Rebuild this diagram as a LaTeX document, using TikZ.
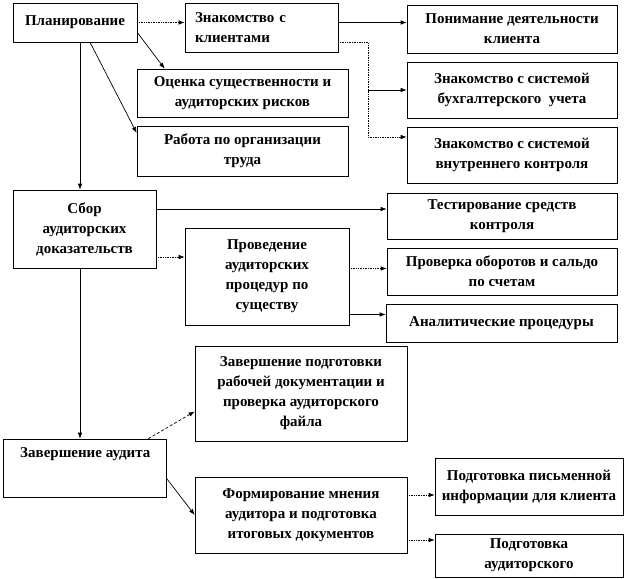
\documentclass[tikz,border=0pt]{standalone}
\usepackage{fontspec}
\setmainfont{Liberation Serif}
\usetikzlibrary{arrows.meta, shadows}

\begin{document}
\begin{tikzpicture}[x=1pt, y=-1pt,
    font=\bfseries\fontsize{15}{20}\selectfont,
    box/.style={draw, line width=0.6pt, fill=white, align=center, inner sep=2pt,
        drop shadow={shadow xshift=1.2pt, shadow yshift=-1.2pt, fill=black!70, opacity=1}},
    arr/.style={-{Latex[length=6pt,width=4.5pt]}, line width=0.7pt},
    dotarr/.style={arr, densely dotted}]
    \useasboundingbox (0,0) rectangle (630,579);
    % Planning
    \node[box, minimum width=124pt, minimum height=39pt] (plan) at (75,22.5) {Планирование};
    \node[box, minimum width=153pt, minimum height=49pt, text width=133pt, align=left] (klient) at (261.5,27.5) {Знакомство с\\клиентами};
    \node[box, minimum width=211pt, minimum height=48pt] (ocenka) at (242.5,93) {Оценка существенности и\\аудиторских рисков};
    \node[box, minimum width=211pt, minimum height=50pt] (rabota) at (242.5,151) {Работа по организации\\труда};
    \node[box, minimum width=210pt, minimum height=48pt] (ponim) at (512,29) {Понимание деятельности\\клиента};
    \node[box, minimum width=210pt, minimum height=56pt] (buh) at (512,90) {Знакомство с системой\\бухгалтерского\ \ учета};
    \node[box, minimum width=210pt, minimum height=56pt] (vnutr) at (512,155) {Знакомство с системой\\внутреннего контроля};
    % Evidence
    \node[box, minimum width=143pt, minimum height=78pt] (sbor) at (84.5,229) {Сбор\\аудиторских\\доказательств};
    \node[box, minimum width=164pt, minimum height=97pt] (proved) at (267,276.5) {Проведение\\аудиторских\\процедур по\\существу};
    \node[box, minimum width=230pt, minimum height=46pt] (test) at (502,216) {Тестирование средств\\контроля};
    \node[box, minimum width=230pt, minimum height=47pt] (oborot) at (502,271.5) {Проверка оборотов и сальдо\\по счетам};
    \node[box, minimum width=231pt, minimum height=38pt] (analit) at (501.5,323) {Аналитические процедуры};
    % Completion
    \node[box, minimum width=163pt, minimum height=58pt,
        label={[anchor=north west, xshift=14pt, yshift=-5pt]north west:Завершение аудита}] (zav) at (84.5,468) {};
    \node[box, minimum width=212pt, minimum height=95pt] (podgot) at (301,393.5) {Завершение подготовки\\рабочей документации и\\проверка аудиторского\\файла};
    \node[box, minimum width=212pt, minimum height=76pt] (formir) at (301,515) {Формирование мнения\\аудитора и подготовка\\итоговых документов};
    \node[box, minimum width=188pt, minimum height=57pt] (pism) at (529,486.5) {Подготовка письменной\\информации для клиента};
    \node[box, minimum width=188pt, minimum height=43pt] (audit) at (529,555.5) {Подготовка\\аудиторского};
    % Arrows
    \draw[dotarr] (plan.east) -- (plan.east -| klient.west);
    \draw[arr] ([yshift=-10pt]plan.east) -- ([xshift=28pt]ocenka.north west);
    \draw[arr] ([xshift=15pt]plan.south) -- ([yshift=18pt]rabota.west);
    \draw[arr] ([xshift=5pt]plan.south) -- ([xshift=5pt]plan.south |- sbor.north);
    \draw[arr] ([yshift=5pt]klient.east) -- ([yshift=5pt]klient.east -| ponim.west);
    \draw[dotarr] ([yshift=-15pt]klient.east) -- ++(30,0) coordinate (kb) |- ([yshift=18pt]vnutr.west);
    \draw[arr] (kb |- buh.west) -- (buh.west);
    \draw[arr] ([yshift=20pt]sbor.east) -- ([yshift=20pt]sbor.east -| test.west);
    \draw[dotarr] ([yshift=-28pt]sbor.east) -- ([yshift=-28pt]sbor.east -| proved.west);
    \draw[arr] ([xshift=-4.5pt]sbor.south) -- ([xshift=-4.5pt]sbor.south |- zav.north);
    \draw[dotarr] ([yshift=8pt]proved.east) -- ([yshift=8pt]proved.east -| oborot.west);
    \draw[arr] ([yshift=-38pt]proved.east) -- ([yshift=-38pt]proved.east -| analit.west);
    \draw[arr, densely dashed] ([xshift=-18pt]zav.north east) -- ([yshift=-18pt]podgot.west);
    \draw[arr] ([yshift=-10pt]zav.east) -- (formir.west);
    \draw[dotarr] ([yshift=20pt]formir.east) -- ([yshift=20pt]formir.east -| pism.west);
    \draw[dotarr] ([yshift=-25pt]formir.east) -- ([yshift=-25pt]formir.east -| audit.west);
\end{tikzpicture}
\end{document}
